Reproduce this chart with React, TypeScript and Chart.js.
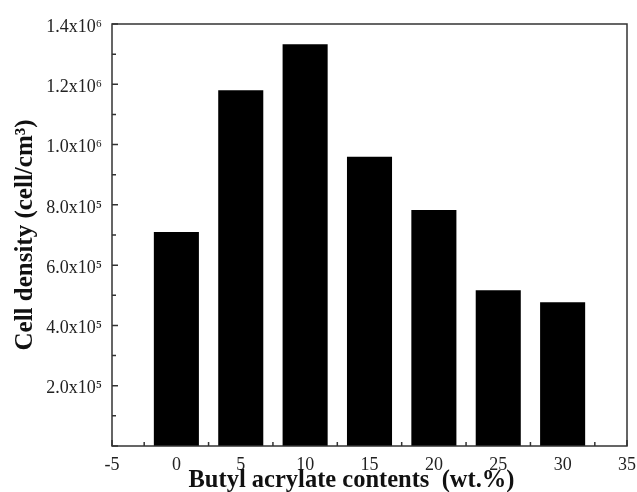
import React, { useEffect, useRef } from 'react';
import { Chart, registerables } from 'chart.js';

Chart.register(...registerables);

const contents = [0, 5, 10, 15, 20, 25, 30];
const cellDensity = [7.1e5, 1.18e6, 1.333e6, 9.6e5, 7.83e5, 5.17e5, 4.77e5];
const yTickLabels = ['', '2.0x10⁵', '4.0x10⁵', '6.0x10⁵', '8.0x10⁵', '1.0x10⁶', '1.2x10⁶', '1.4x10⁶'];
const xTitle = 'Butyl acrylate contents  (wt.%)';
const yTitle = 'Cell density (cell/cm³)';

const SERIF = "'Liberation Serif', 'Times New Roman', serif";
const AXIS_COLOR = '#333';

const framePlugin = {
  id: 'frame',
  beforeDatasetsDraw(chart: any) {
    const { ctx, chartArea, scales } = chart;
    const x = scales.x;
    const y = scales.y;
    ctx.save();
    ctx.strokeStyle = AXIS_COLOR;
    ctx.lineWidth = 1.5;
    ctx.beginPath();
    for (let i = 0; i <= 14; i++) {
      const py = y.getPixelForValue(i * 1e5);
      const len = i % 2 === 0 ? 6 : 4;
      ctx.moveTo(chartArea.left, py);
      ctx.lineTo(chartArea.left + len, py);
    }
    for (let i = 0; i <= 16; i++) {
      const px = x.getPixelForValue(-5 + i * 2.5);
      const len = i % 2 === 0 ? 6 : 4;
      ctx.moveTo(px, chartArea.bottom);
      ctx.lineTo(px, chartArea.bottom - len);
    }
    ctx.stroke();
    ctx.restore();
  },
  afterDatasetsDraw(chart: any) {
    const { ctx, chartArea } = chart;
    ctx.save();
    ctx.strokeStyle = AXIS_COLOR;
    ctx.lineWidth = 1.5;
    ctx.strokeRect(chartArea.left, chartArea.top, chartArea.right - chartArea.left, chartArea.bottom - chartArea.top);
    ctx.fillStyle = '#111';
    ctx.font = `bold 24.5px ${SERIF}`;
    ctx.textAlign = 'center';
    ctx.textBaseline = 'alphabetic';
    const cx = chartArea.left + (chartArea.right - chartArea.left) * 0.465;
    ctx.fillText(xTitle, cx, chartArea.bottom + 41);
    ctx.restore();
  },
};

export default function App() {
  const ref = useRef<HTMLCanvasElement>(null);

  useEffect(() => {
    if (!ref.current) return;
    const chart = new Chart(ref.current, {
      type: 'bar',
      data: {
        datasets: [
          {
            data: contents.map((c, i) => ({ x: c, y: cellDensity[i] })) as any,
            backgroundColor: '#000',
            borderWidth: 0,
            barPercentage: 0.7,
            categoryPercentage: 1.0,
          },
        ],
      },
      options: {
        responsive: false,
        animation: false,
        layout: { padding: { top: 24, right: 10, left: 0, bottom: 0 } },
        plugins: { legend: { display: false }, tooltip: { enabled: false } },
        scales: {
          x: {
            type: 'linear',
            min: -5,
            max: 35,
            offset: false,
            grid: { display: false, drawTicks: false, offset: false },
            border: { display: false },
            ticks: {
              stepSize: 5,
              padding: 8,
              color: '#222',
              font: { family: SERIF, size: 18 },
              maxRotation: 0,
              callback: (v: any) => String(v),
            },
            afterFit: (s: any) => {
              s.height = 46;
              s.paddingLeft = 0;
              s.paddingRight = 0;
            },
          },
          y: {
            min: 0,
            max: 1.4e6,
            grid: { display: false, drawTicks: false },
            border: { display: false },
            ticks: {
              stepSize: 2e5,
              padding: 10,
              labelOffset: 3,
              color: '#222',
              font: { family: SERIF, size: 18 },
              callback: (v: any) => yTickLabels[Math.round(Number(v) / 2e5)] ?? '',
            },
            title: {
              display: true,
              text: yTitle,
              color: '#111',
              font: { family: SERIF, size: 25, weight: 'bold' },
              padding: { top: 11, bottom: 0 },
            },
            afterFit: (s: any) => {
              s.width = 112;
              s.paddingTop = 0;
              s.paddingBottom = 0;
            },
          },
        },
      },
      plugins: [framePlugin],
    });
    return () => chart.destroy();
  }, []);

  return (
    <div style={{ position: 'fixed', left: 0, top: 0, width: 637, height: 492, background: '#fff' }}>
      <canvas ref={ref} width={637} height={492} />
    </div>
  );
}
